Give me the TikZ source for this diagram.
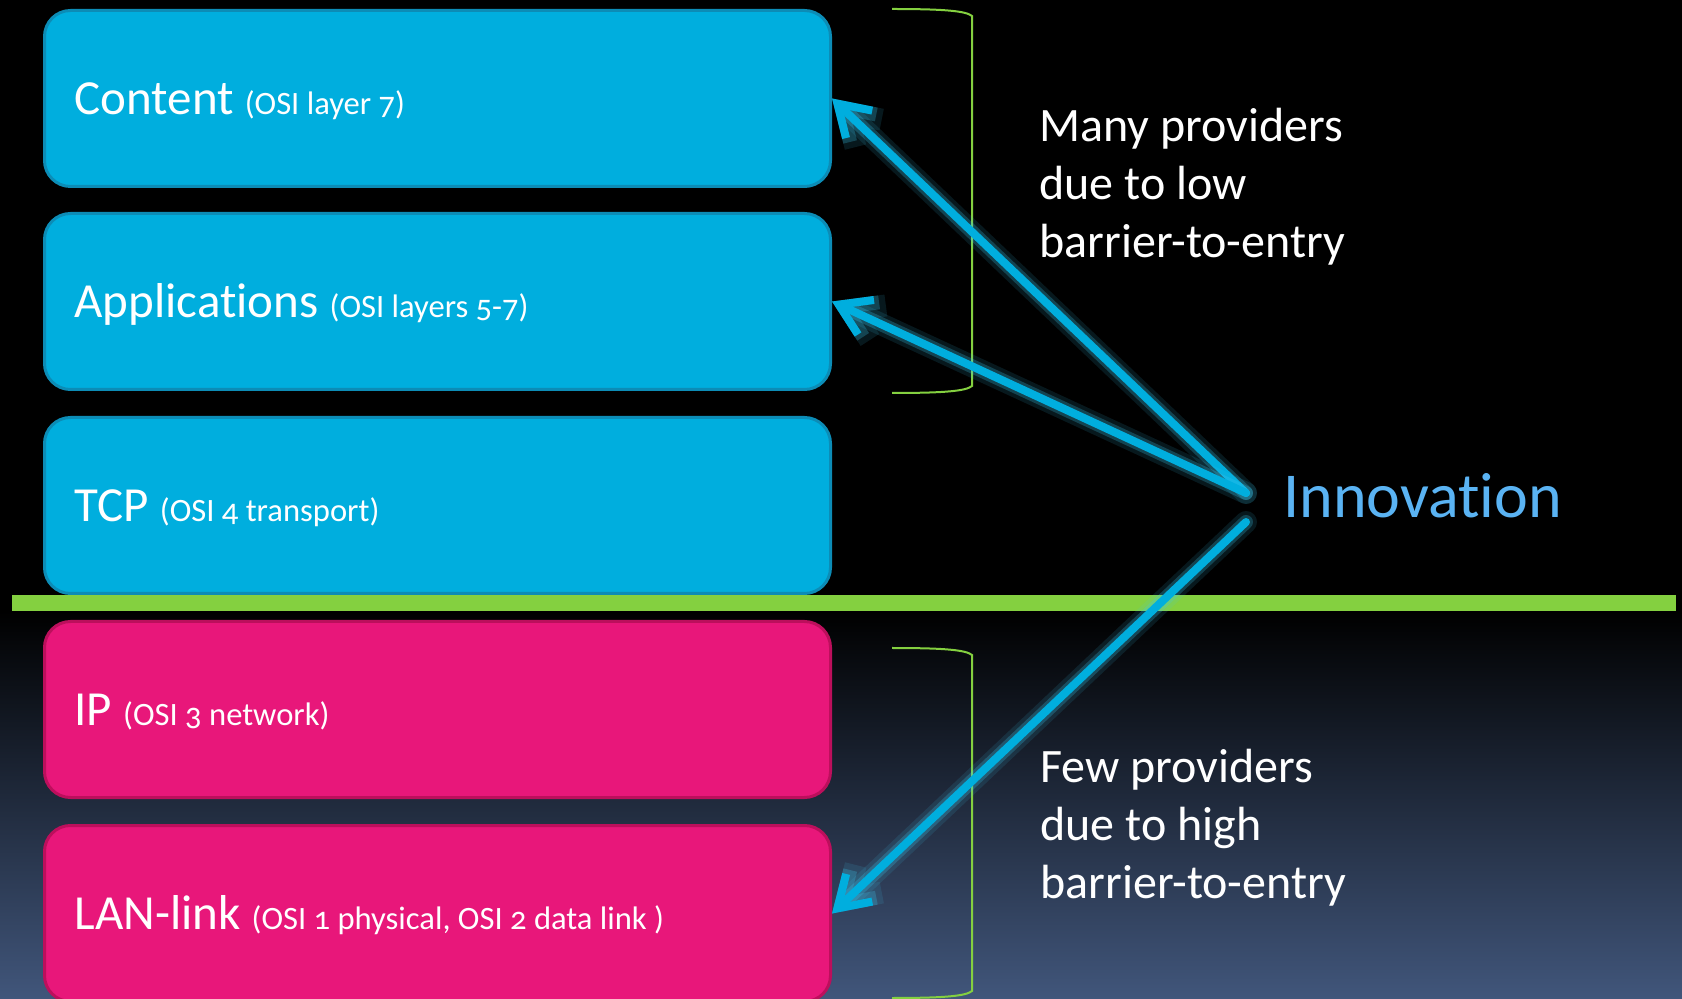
\documentclass[tikz,border=0pt]{standalone}
\usepackage{fontspec}
\setmainfont{Carlito}[Numbers=OldStyle,Ligatures=NoCommon]
\usetikzlibrary{arrows.meta}

\definecolor{upcyan}{HTML}{00AEDE}
\definecolor{upcyanedge}{HTML}{0C8CB6}
\definecolor{downpink}{HTML}{E8177A}
\definecolor{downpinkedge}{HTML}{BC0F5C}
\definecolor{splitgreen}{HTML}{84D040}
\definecolor{innoblue}{HTML}{5AB3F3}
\definecolor{glowcyan}{HTML}{3CC8F0}
\definecolor{bgblue}{HTML}{41567B}

\newcommand{\layertext}[2]{\makebox[363pt][l]{#1 {\fontsize{16.3}{19}\selectfont #2}}}
\newcommand{\plainspaces}{\spaceskip=0pt\relax\xspaceskip=0pt\relax}

\begin{document}
\begin{tikzpicture}[x=0.5pt,y=-0.5pt,
  layer/.style={draw,line width=1.5pt,rounded corners=13pt,anchor=north west,
    minimum width=393pt,minimum height=88pt,inner sep=0pt,
    text height=20pt,text depth=4pt,text=white,font=\fontsize{24.5}{29}\selectfont},
  note/.style={anchor=base west,align=left,text=white,inner sep=0pt,
    font=\fontsize{24}{29}\selectfont},
  bracket/.style={splitgreen,line width=1pt},
  push/.style={upcyan,line width=4pt,line cap=round,line join=round,
    -{Straight Barb[length=15pt,width=19pt]},
    preaction={draw,glowcyan,opacity=0.12,line width=11pt,line cap=round,line join=round,
      -{Straight Barb[length=15pt,width=19pt]}},
    preaction={draw,glowcyan,opacity=0.25,line width=7pt,line cap=round,line join=round,
      -{Straight Barb[length=15pt,width=19pt]}}}]

\fill[black] (0,0) rectangle (1682,999);
\shade[top color=black,bottom color=bgblue] (0,611) rectangle (1682,999);
\useasboundingbox (0,0) rectangle (1682,999);

\node[layer,fill=upcyan,draw=upcyanedge] (content) at (43,9) {\layertext{Content}{(OSI layer 7)}};
\node[layer,fill=upcyan,draw=upcyanedge] (apps) at (43,212) {\layertext{Applications}{(OSI layers 5-7)}};
\node[layer,fill=upcyan,draw=upcyanedge] (tcp) at (43,416) {\layertext{TCP}{(OSI 4 transport)}};

\fill[splitgreen] (12,595) rectangle (1676,611);

\node[layer,fill=downpink,draw=downpinkedge] (ip) at (43,620) {\layertext{IP}{(OSI 3 network)}};
\node[layer,fill=downpink,draw=downpinkedge] (lan) at (43,824) {\layertext{LAN-link}{(OSI 1 physical, OSI 2 data link )}};

\draw[bracket] (892,9) .. controls (945,9) and (966,11) .. (972,16) -- (972,386)
  .. controls (966,391) and (945,393) .. (892,393);
\draw[bracket] (892,648) .. controls (945,648) and (966,650) .. (972,655) -- (972,991)
  .. controls (966,996) and (945,998) .. (892,998);

\node[note] (many) at (1039,258) {\plainspaces Many providers\\due to low\\barrier-to-entry};
\node[note] (few) at (1040,898) {\plainspaces Few providers\\due to high\\barrier-to-entry};
\node[anchor=base west,inner sep=0pt,text=innoblue,font=\fontsize{32}{38}\selectfont] (innov) at (1283,518) {Innovation};

\coordinate (fork) at (1246,493);
\coordinate (fork2) at (1246,522);
\draw[push] (fork) -- (content.east);
\draw[push] (fork) -- (apps.east);
\draw[push] (fork2) -- (lan.east);
\end{tikzpicture}
\end{document}
